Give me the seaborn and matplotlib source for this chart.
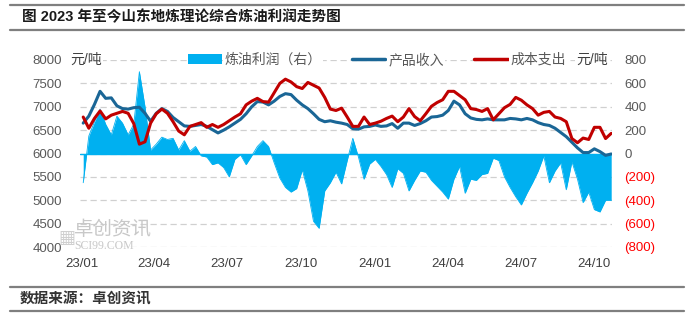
import matplotlib
matplotlib.use("Agg")
import matplotlib.pyplot as plt
from matplotlib.lines import Line2D
from matplotlib.patches import Patch
import pandas as pd
import seaborn as sns

# weekly readings, first week of Jan 2023 to late Oct 2024
weeks = pd.date_range("2023-01-03", periods=95, freq="7D")

income = [
    6650, 6800, 7050, 7330, 7180, 7190, 7020, 6960, 6950, 6980,
    6990, 6860, 6690, 6860, 6960, 6900, 6770, 6680, 6590, 6580,
    6600, 6620, 6580, 6510, 6440, 6500, 6570, 6650, 6730, 6850,
    7000, 7110, 7100, 7040, 7120, 7220, 7280, 7260, 7140, 7040,
    6960, 6850, 6730, 6680, 6700, 6670, 6650, 6620, 6530, 6520,
    6570, 6580, 6610, 6580, 6590, 6640, 6540, 6650, 6650, 6600,
    6640, 6700, 6780, 6790, 6820, 6920, 7120, 7040, 6850, 6760,
    6730, 6720, 6740, 6720, 6720, 6720, 6750, 6740, 6720, 6750,
    6720, 6660, 6620, 6600, 6540, 6450, 6360, 6240, 6120, 6020,
    6020, 6100, 6040, 5960, 5990,
]

cost = [
    6780, 6540, 6750, 6910, 6740, 6820, 6860, 6900, 6860, 6640,
    6200, 6250, 6650, 6850, 6950, 6860, 6680, 6480, 6400, 6580,
    6620, 6660, 6560, 6620, 6560, 6620, 6700, 6780, 6850, 7040,
    7120, 7180, 7110, 7100, 7300, 7500, 7590, 7530, 7430, 7390,
    7520, 7460, 7400, 7200, 6950, 6920, 6970, 6780, 6580, 6580,
    6780, 6620, 6650, 6690, 6750, 6800, 6680, 6780, 6960, 6790,
    6700, 6850, 7010, 7090, 7150, 7330, 7330, 7240, 7150, 6960,
    6940, 6900, 6960, 6720, 6850, 6980, 7050, 7200, 7140, 7040,
    6960, 6820, 6880, 6900, 6780, 6750, 6680, 6320, 6230, 6330,
    6300, 6560, 6560, 6320, 6430,
]

profit = [
    -250, 150, 270, 380, 250, 160, 320, 260, 160, 250,
    700, 400, 30, 80, 140, 120, 130, 30, 110, 20,
    60, -20, -30, -95, -80, -120, -200, -50, -10, -95,
    -20, 60, 110, 60, -80, -210, -290, -330, -300, -140,
    -320, -580, -640, -320, -250, -160, -260, -60, 130, -30,
    -220, -90, -50, -110, -180, -290, -130, -170, -320, -230,
    -150, -160, -230, -280, -330, -390, -220, -110, -340, -220,
    -230, -180, -170, -40, -60, -200, -290, -370, -440, -340,
    -250, -150, -20, -250, -150, -80, -310, -70, -220, -420,
    -330, -480, -500, -400, -400,
]

tick_dates = pd.to_datetime([
    "2023-01-01", "2023-04-01", "2023-07-01", "2023-10-01",
    "2024-01-01", "2024-04-01", "2024-07-01", "2024-10-01",
])
tick_labels = ["23/01", "23/04", "23/07", "23/10", "24/01", "24/04", "24/07", "24/10"]

left_ticks = [4000, 4500, 5000, 5500, 6000, 6500, 7000, 7500, 8000]
right_ticks = [-800, -600, -400, -200, 0, 200, 400, 600, 800]
right_labels = ["(800)", "(600)", "(400)", "(200)", "0", "200", "400", "600", "800"]

series_names = ["炼油利润（右）", "产品收入", "成本支出"]
c_profit = "#00B0F0"
c_income = "#1A6696"
c_cost = "#C00000"

sns.set_theme(style="white")
plt.rcParams["font.family"] = ["Liberation Sans", "Noto Sans CJK SC", "DejaVu Sans"]

df = pd.DataFrame({"date": weeks, "income": income, "cost": cost, "profit": profit})

fig = plt.figure(figsize=(6.94, 3.2), dpi=100)
ax = fig.add_axes([80 / 694, 1 - 247 / 320, 532 / 694, 187 / 320])
ax2 = ax.twinx()

# profit area sits on the bottom axes, the two lines on the twin above it
ax.fill_between(df["date"], 0, df["profit"], color=c_profit, lw=0, zorder=2)
sns.lineplot(data=df, x="date", y="profit", ax=ax, color=c_profit, lw=0.6, zorder=2)
ax.axhline(0, color=c_profit, lw=1.0, zorder=2)

sns.lineplot(data=df, x="date", y="income", ax=ax2, color=c_income, lw=2.2)
sns.lineplot(data=df, x="date", y="cost", ax=ax2, color=c_cost, lw=2.2)

ax.set_ylim(-800, 800)
ax2.set_ylim(4000, 8000)
ax.set_xlim(pd.Timestamp("2022-12-30"), pd.Timestamp("2024-10-23"))

ax.yaxis.tick_right()
ax2.yaxis.tick_left()
ax.set_yticks(right_ticks, labels=right_labels)
ax2.set_yticks(left_ticks, labels=[str(v) for v in left_ticks])
ax.set_xticks(tick_dates, labels=tick_labels)

ax.tick_params(axis="y", length=0, pad=9, labelsize=9.5, colors="#595959")
ax2.tick_params(axis="y", length=0, pad=13, labelsize=9.5, colors="#595959")
ax.tick_params(axis="x", length=0, pad=8, labelsize=9.5, colors="#404040")
for lab in ax.get_yticklabels():
    if lab.get_text().startswith("("):
        lab.set_color("#FF0000")

ax.grid(axis="y", linestyle=(0, (5, 3)), color="#D0D0D0", lw=0.9)
ax.grid(axis="x", visible=False)
ax2.grid(False)
ax.set_axisbelow(True)
for a in (ax, ax2):
    a.set_xlabel("")
    a.set_ylabel("")
    for s in a.spines.values():
        s.set_visible(False)

handles = [
    Patch(facecolor=c_profit, edgecolor="none"),
    Line2D([], [], color=c_income, lw=2.5),
    Line2D([], [], color=c_cost, lw=2.5),
]
leg = ax2.legend(handles, series_names, loc="center", ncol=3, frameon=False,
                 bbox_to_anchor=(377 / 694, 1 - 60 / 320), bbox_transform=fig.transFigure,
                 fontsize=10, handlelength=2.4, handletextpad=0.2, columnspacing=2.2)
for t in leg.get_texts():
    t.set_color("#595959")
    t.set_bbox(dict(facecolor="white", edgecolor="none", pad=1))

unit_box = dict(facecolor="white", edgecolor="none", pad=1)
fig.text(70 / 694, 1 - 60 / 320, "元/吨", fontsize=10, color="#404040", va="center", bbox=unit_box)
fig.text(608 / 694, 1 - 60 / 320, "元/吨", fontsize=10, color="#404040", va="center", ha="right", bbox=unit_box)

# watermark
fig.text(58 / 694, 1 - 238 / 320, "▦", fontsize=13, color="#D0D0D0", va="center",
         family="DejaVu Sans")
fig.text(74 / 694, 1 - 230 / 320, "卓创资讯", fontsize=14, color="#C8C8C8", va="center")
fig.text(74 / 694, 1 - 246 / 320, "SCI99.COM", fontsize=8.5, color="#C8C8C8", va="center",
         family="Liberation Serif")

# header and footer
fig.text(22 / 694, 1 - 17 / 320, "图 2023 年至今山东地炼理论综合炼油利润走势图",
         fontsize=10.5, weight="bold", color="#1A1A1A", va="center")
fig.text(20 / 694, 1 - 299 / 320, "数据来源：卓创资讯", fontsize=10.5, weight="bold",
         color="#333333", va="center")
for yy in (5, 30, 287, 311):
    fig.add_artist(Line2D([10 / 694, 684 / 694], [1 - yy / 320, 1 - yy / 320],
                          transform=fig.transFigure, color="#7F7F7F", lw=1.6))

fig.savefig("out.png", dpi=100)
